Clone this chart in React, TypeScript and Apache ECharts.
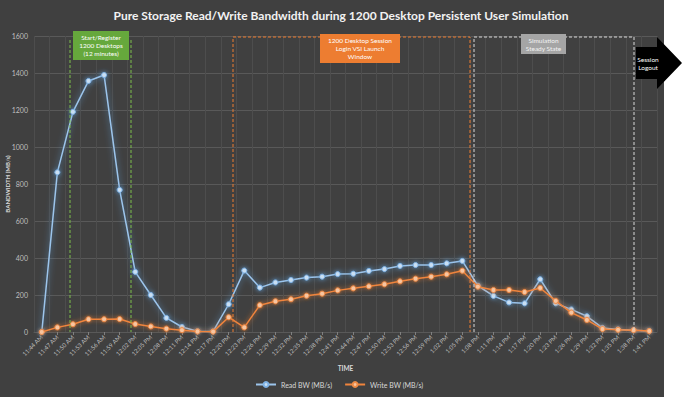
import React, { useEffect, useRef } from "react";
import * as echarts from "echarts";

const times = [
  "11:44 AM", "11:47 AM", "11:50 AM", "11:53 AM", "11:56 AM", "11:59 AM",
  "12:02 PM", "12:05 PM", "12:08 PM", "12:11 PM", "12:14 PM", "12:17 PM",
  "12:20 PM", "12:23 PM", "12:26 PM", "12:29 PM", "12:32 PM", "12:35 PM",
  "12:38 PM", "12:41 PM", "12:44 PM", "12:47 PM", "12:50 PM", "12:53 PM",
  "12:56 PM", "12:59 PM", "1:02 PM", "1:05 PM", "1:08 PM", "1:11 PM",
  "1:14 PM", "1:17 PM", "1:20 PM", "1:23 PM", "1:26 PM", "1:29 PM",
  "1:32 PM", "1:35 PM", "1:38 PM", "1:41 PM",
];

const readBW = [
  0, 863, 1190, 1357, 1389, 768, 325, 200, 76, 27, 4, 3,
  150, 332, 240, 268, 281, 294, 299, 313, 315, 330, 340, 357,
  362, 362, 371, 384, 250, 195, 160, 155, 285, 155, 122, 85,
  22, 14, 10, 6,
];

const writeBW = [
  0, 25, 42, 69, 69, 70, 43, 30, 18, 10, 3, 2,
  80, 25, 145, 166, 177, 196, 207, 225, 236, 247, 258, 274,
  288, 299, 312, 331, 245, 227, 227, 216, 238, 168, 105, 65,
  16, 12, 10, 5,
];

const yTicks = { min: 0, max: 1600, interval: 200 };

const FONT = "Lato, 'Open Sans', sans-serif";

export default function App() {
  const ref = useRef<HTMLDivElement>(null);
  useEffect(() => {
    if (!ref.current) return;
    const chart = echarts.init(ref.current, undefined, { renderer: "svg" });
    const dash = [3, 2];
    const boxText = (text: string, x: number, y: number, color = "#ffffff") => ({
      type: "text",
      silent: true,
      z: 20,
      style: {
        text,
        x,
        y,
        textAlign: "center",
        textVerticalAlign: "middle",
        fill: color,
        font: `6.5px ${FONT}`,
        lineHeight: 8,
      },
    });
    chart.setOption({
      animation: false,
      backgroundColor: "#ffffff",
      title: {
        text: "Pure Storage Read/Write Bandwidth during 1200 Desktop Persistent User Simulation",
        left: "center",
        top: 4,
        textStyle: { color: "#f2f2f2", fontSize: 12, fontWeight: "bold", fontFamily: FONT },
      },
      grid: { left: 34, right: 25, top: 36, bottom: 65, outerBoundsMode: "none", containLabel: false },
      legend: {
        bottom: 4,
        left: 250,
        itemWidth: 20,
        itemHeight: 6,
        itemGap: 12,
        textStyle: { color: "#d9d9d9", fontSize: 7, fontFamily: FONT },
        data: ["Read BW (MB/s)", "Write BW (MB/s)"],
      },
      xAxis: {
        type: "category",
        data: times,
        boundaryGap: true,
        name: "TIME",
        nameLocation: "middle",
        nameGap: 33,
        nameMoveOverlap: false,
        nameTextStyle: { color: "#d9d9d9", fontSize: 6.5, fontWeight: "bold", fontFamily: FONT },
        axisLine: { show: true, lineStyle: { color: "#595959" } },
        axisTick: { show: true, alignWithLabel: true, length: 3, lineStyle: { color: "#7f7f7f" } },
        axisLabel: {
          rotate: 45,
          interval: 0,
          color: "#bfbfbf",
          fontSize: 6,
          fontFamily: FONT,
          margin: 4,
        },
        splitLine: { show: true, lineStyle: { color: "#4d4d4d", width: 1 } },
      },
      yAxis: {
        type: "value",
        min: yTicks.min,
        max: yTicks.max,
        interval: yTicks.interval,
        name: "BANDWIDTH (MB/s)",
        nameLocation: "middle",
        nameGap: 24,
        nameRotate: 90,
        nameMoveOverlap: false,
        nameTextStyle: { color: "#d9d9d9", fontSize: 6, fontWeight: "bold", fontFamily: FONT },
        axisLine: { show: false },
        axisTick: { show: false },
        axisLabel: {
          color: "#bfbfbf",
          fontSize: 7,
          fontFamily: FONT,
          margin: 6,
          formatter: (v: number) => String(v),
        },
        splitLine: { show: true, lineStyle: { color: "#595959", width: 1 } },
      },
      series: [
        {
          name: "Read BW (MB/s)",
          type: "line",
          data: readBW,
          symbol: "circle",
          symbolSize: 5,
          z: 3,
          lineStyle: {
            color: "#9cc5ec",
            width: 1.5,
            shadowColor: "rgba(91,155,213,0.95)",
            shadowBlur: 6,
          },
          itemStyle: {
            color: "#c9dff3",
            borderColor: "#7fb2e5",
            borderWidth: 1,
            shadowColor: "rgba(91,155,213,0.9)",
            shadowBlur: 4,
          },
        },
        {
          name: "Write BW (MB/s)",
          type: "line",
          data: writeBW,
          symbol: "circle",
          symbolSize: 5,
          z: 4,
          lineStyle: {
            color: "#f0843c",
            width: 1.5,
            shadowColor: "rgba(237,125,49,0.9)",
            shadowBlur: 5,
          },
          itemStyle: {
            color: "#f7c5a0",
            borderColor: "#ed8a45",
            borderWidth: 1,
            shadowColor: "rgba(237,125,49,0.8)",
            shadowBlur: 3,
          },
        },
      ],
      graphic: [
        {
          type: "rect",
          z: -100,
          silent: true,
          shape: { x: 0, y: 0, width: 664, height: 397 },
          style: { fill: "#404040" },
        },
        {
          type: "line",
          z: 10,
          silent: true,
          shape: { x1: 70, y1: 40, x2: 70, y2: 332 },
          style: { stroke: "#7cbf4a", lineWidth: 1, lineDash: dash },
        },
        {
          type: "line",
          z: 10,
          silent: true,
          shape: { x1: 131, y1: 40, x2: 131, y2: 332 },
          style: { stroke: "#7cbf4a", lineWidth: 1, lineDash: dash },
        },
        {
          type: "polyline",
          z: 10,
          silent: true,
          shape: { points: [[233, 332], [233, 37], [470, 37], [470, 332]] },
          style: { stroke: "#ed7d31", fill: null, lineWidth: 1, lineDash: dash },
        },
        {
          type: "polyline",
          z: 10,
          silent: true,
          shape: { points: [[474, 332], [474, 37], [634, 37], [634, 332]] },
          style: { stroke: "#d9d9d9", fill: null, lineWidth: 1, lineDash: dash },
        },
        {
          type: "rect",
          z: 15,
          silent: true,
          shape: { x: 73, y: 31, width: 56, height: 29 },
          style: { fill: "#66a83c" },
        },
        boxText("Start/Register\n1200 Desktops\n(12 minutes)", 101, 45.5),
        {
          type: "rect",
          z: 15,
          silent: true,
          shape: { x: 320, y: 34, width: 80, height: 29 },
          style: { fill: "#ed7d31" },
        },
        boxText("1200 Desktop Session\nLogin VSI Launch\nWindow", 360, 48.5),
        {
          type: "rect",
          z: 15,
          silent: true,
          shape: { x: 521, y: 34, width: 45, height: 20 },
          style: { fill: "#a5a5a5" },
        },
        boxText("Simulation\nSteady State", 543.5, 44, "#f2f2f2"),
        {
          type: "polygon",
          z: 15,
          silent: true,
          shape: {
            points: [[636, 47], [657, 47], [657, 37], [682, 63], [657, 89], [657, 79], [636, 79]],
          },
          style: { fill: "#000000" },
        },
        boxText("Session\nLogout", 648, 63),
      ],
    });
    return () => chart.dispose();
  }, []);
  return (
    <div
      ref={ref}
      style={{ position: "fixed", left: 0, top: 0, width: 682, height: 397 }}
    />
  );
}
